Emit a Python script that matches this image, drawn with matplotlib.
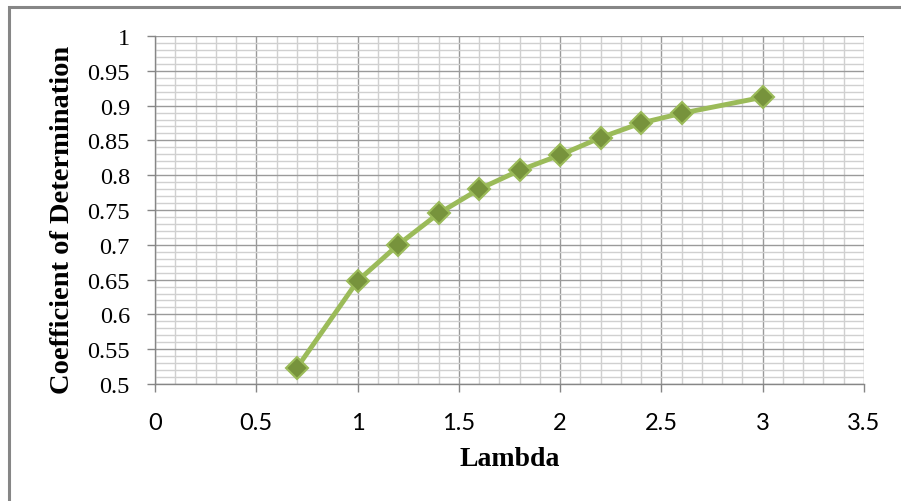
import numpy as np
import matplotlib
matplotlib.use("Agg")
from matplotlib import pyplot as plt
from matplotlib.patches import Rectangle
from matplotlib.ticker import MultipleLocator, FuncFormatter

# lambda values and the resulting coefficient of determination
lam = [0.7, 1.0, 1.2, 1.4, 1.6, 1.8, 2.0, 2.2, 2.4, 2.6, 3.0]
r2 = [0.523, 0.648, 0.700, 0.745, 0.780, 0.807, 0.829, 0.854, 0.875, 0.889, 0.912]

fig = plt.figure(figsize=(9.01, 5.02), dpi=100)
ax = fig.add_axes([155 / 901, 1 - 385 / 502, (864 - 155) / 901, (385 - 37) / 502])

# outer chart frame (runs off the right and bottom edge)
fig.patches.append(Rectangle((9 / 901, -0.1), 1.2, 1 - 8 / 502 + 0.1,
                             transform=fig.transFigure, fill=False,
                             edgecolor='#868686', linewidth=2.2, zorder=0))

ax.set_xlim(0, 3.5)
ax.set_ylim(0.5, 1.0)
ax.xaxis.set_major_locator(MultipleLocator(0.5))
ax.xaxis.set_minor_locator(MultipleLocator(0.1))
ax.yaxis.set_major_locator(MultipleLocator(0.05))
ax.yaxis.set_minor_locator(MultipleLocator(0.01))

fmt = FuncFormatter(lambda v, p: ('%.2f' % v).rstrip('0').rstrip('.'))
ax.xaxis.set_major_formatter(fmt)
ax.yaxis.set_major_formatter(fmt)

ax.grid(which='major', color='#9a9a9a', linewidth=1.0)
ax.grid(which='minor', color='#d0d0d0', linewidth=1.0)
ax.set_axisbelow(True)

for s in ['top', 'right']:
    ax.spines[s].set_visible(False)
for s in ['left', 'bottom']:
    ax.spines[s].set_color('#868686')
    ax.spines[s].set_linewidth(1.0)

ax.tick_params(which='major', length=6, color='#868686', width=1.0)
ax.tick_params(which='minor', length=0)
ax.tick_params(axis='x', pad=14)
ax.tick_params(axis='y', pad=12)

for t in ax.get_xticklabels():
    t.set_fontfamily('Lato')
    t.set_fontsize(17)
for t in ax.get_yticklabels():
    t.set_fontfamily('Liberation Serif')
    t.set_fontsize(17.5)

ax.plot(lam, r2, color='#9bbb59', linewidth=3.5, marker='D', markersize=11,
        markerfacecolor='#77933c', markeredgecolor='#9bbb59', markeredgewidth=1.5,
        solid_joinstyle='round', zorder=3)

fig.text(510 / 901, 1 - 460 / 502, 'Lambda', ha='center', va='center',
         fontfamily='Liberation Serif', fontweight='bold', fontsize=20)
fig.text(63 / 901, 1 - 220 / 502, 'Coefficient of Determination', ha='center',
         va='center', rotation=90, fontfamily='Liberation Serif',
         fontweight='bold', fontsize=20.5)

fig.savefig('out.png', dpi=100)
